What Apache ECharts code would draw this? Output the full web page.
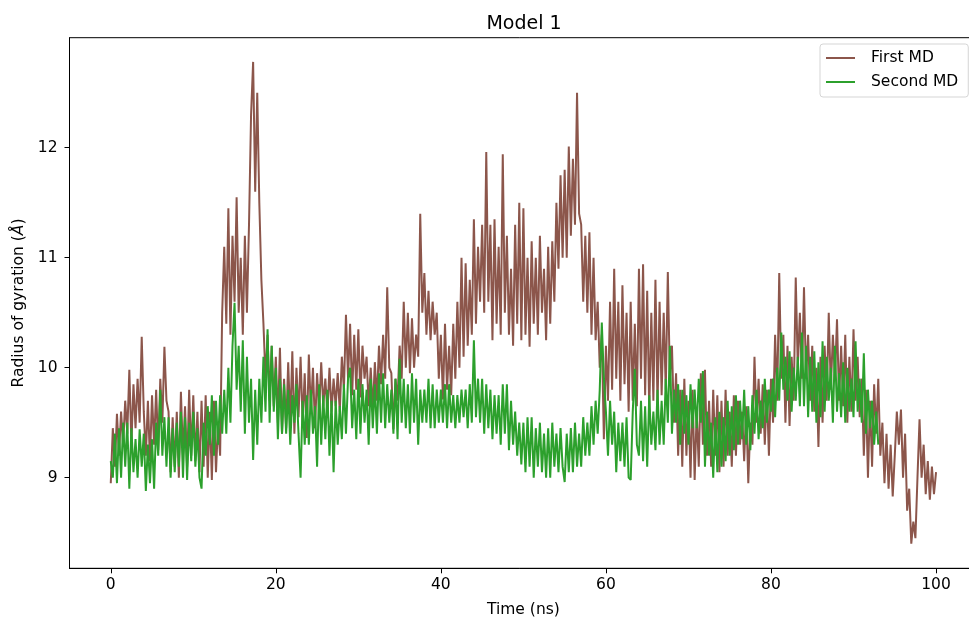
<!DOCTYPE html>
<html>
<head>
<meta charset="utf-8">
<script src="https://cdn.jsdelivr.net/npm/echarts@6/dist/echarts.min.js"></script>
<style>html,body{margin:0;padding:0;background:#fff}#c{width:969px;height:618px}</style>
</head>
<body>
<div id="c"></div>
<script>
// Time step (ns) between samples
const timeStep = 0.25;
// First MD radius of gyration (Å), one row per ns (4 samples), 0 to 100 ns
const firstMD = [
8.95,9.45,9.1,9.58,
9.2,9.6,9.3,9.7,
9.4,9.98,9.3,9.85,
9.45,9.9,9.5,10.28,
9.6,9.2,9.7,9.15,
9.75,9.3,9.8,9.25,
9.9,9.5,10.19,9.7,
9.6,9.05,9.55,9.1,
9.6,9.0,9.78,9.2,
9.65,9.1,9.8,9.2,
9.75,9.15,9.6,9.05,
9.7,9.1,9.75,9.0,
9.6,8.98,9.7,9.05,
9.5,9.2,10.5,11.1,
10.4,11.45,10.3,11.2,
10.6,11.55,10.5,11.0,
10.3,11.2,10.5,11.3,
12.3,12.78,11.6,12.5,
11.5,10.8,10.4,9.9,
10.3,9.7,10.2,9.65,
10.1,9.5,10.18,9.4,
9.9,9.45,10.05,9.5,
10.15,9.4,10.0,9.55,
10.1,9.5,9.95,9.36,
10.12,9.6,10.0,9.45,
9.95,9.6,10.05,9.65,
9.9,9.59,10.0,9.6,
9.9,9.65,9.95,9.6,
10.1,9.8,10.48,9.9,
10.4,9.75,10.3,9.8,
10.35,9.73,10.2,9.9,
10.1,9.65,10.0,9.6,
10.05,9.7,10.2,9.85,
10.3,9.9,10.73,10.0,
9.95,9.44,9.9,9.7,
10.2,9.9,10.6,10.0,
10.5,9.95,10.45,10.0,
10.3,10.1,11.4,10.5,
10.86,10.3,10.7,10.25,
10.6,10.3,10.5,9.9,
10.3,9.71,10.4,9.8,
10.2,9.75,10.4,9.9,
10.6,10.0,11.0,10.1,
10.95,10.2,10.8,10.3,
11.35,10.4,11.1,10.6,
11.3,10.5,11.96,10.6,
11.3,10.25,11.35,10.4,
11.1,10.3,11.94,10.5,
11.2,10.3,10.9,10.2,
11.3,10.4,11.5,10.25,
11.45,10.3,11.0,10.19,
11.15,10.4,11.0,10.3,
11.2,10.5,10.9,10.25,
11.1,10.4,11.15,10.6,
11.5,10.9,11.75,11.0,
11.8,11.0,12.01,11.2,
11.9,11.3,12.5,11.4,
11.3,10.6,11.2,10.5,
11.23,10.3,11.0,10.25,
10.6,10.0,10.3,9.35,
10.2,9.7,10.6,9.8,
10.9,9.9,10.6,9.7,
10.75,9.85,10.5,9.6,
10.6,9.7,10.4,9.65,
10.9,9.9,10.94,9.75,
10.7,9.6,10.5,9.7,
10.8,9.65,10.6,9.75,
10.5,9.8,10.87,9.9,
10.2,9.5,9.95,9.2,
9.8,9.1,9.9,9.2,
9.7,9.0,9.8,8.98,
9.6,9.1,9.95,9.3,
9.98,9.2,9.7,9.1,
9.8,9.2,9.75,9.05,
9.7,9.1,9.8,9.2,
9.6,9.1,9.75,9.2,
9.7,9.3,9.6,9.15,
9.65,8.95,9.5,9.3,
10.1,9.5,9.9,9.4,
9.85,9.3,9.8,9.2,
9.9,9.5,10.3,9.7,
10.86,9.9,10.3,9.5,
10.2,9.47,10.1,9.7,
10.82,10.0,10.5,9.9,
10.73,9.9,10.3,9.7,
10.2,9.6,10.0,9.28,
10.1,9.5,10.2,9.7,
10.5,9.8,10.3,9.9,
10.44,9.7,10.2,9.65,
10.3,9.5,10.1,9.6,
10.35,9.7,10.1,9.55,
9.9,9.2,9.8,9.0,
9.7,9.1,9.85,9.4,
9.9,9.2,9.5,8.95,
9.4,8.9,9.3,8.83,
9.2,9.6,9.3,9.62,
9.0,9.4,8.7,8.9,
8.4,8.6,8.45,9.0,
9.53,9.0,9.3,8.85,
9.15,8.8,9.1,8.85,
9.05
];
// Second MD radius of gyration (Å), one row per ns (4 samples), 0 to 93 ns
const secondMD = [
9.15,9.0,9.4,8.95,
9.45,9.0,9.5,9.1,
9.5,8.9,9.45,9.05,
9.35,9.0,9.44,9.1,
9.4,8.88,9.3,8.95,
9.35,8.9,9.5,9.2,
9.8,9.2,9.55,9.1,
9.55,9.0,9.45,9.05,
9.5,9.1,9.6,9.0,
9.55,8.98,9.5,9.15,
9.6,9.1,9.45,9.0,
8.9,9.5,9.2,9.65,
9.3,9.75,9.2,9.7,
9.3,9.75,9.4,9.8,
9.4,10.0,9.5,10.2,
10.59,9.8,10.2,9.6,
10.25,9.4,10.1,9.5,
9.9,9.16,9.8,9.3,
9.9,9.5,10.1,9.6,
10.35,9.5,10.2,9.6,
10.0,9.35,9.9,9.4,
9.85,9.4,9.8,9.3,
9.75,9.5,9.85,9.4,
9.0,9.7,9.3,9.75,
9.3,9.8,9.4,9.65,
9.1,9.85,9.3,9.75,
9.35,9.8,9.2,9.7,
9.05,9.7,9.3,9.65,
9.35,9.85,9.4,9.9,
10.0,9.45,9.8,9.35,
9.9,9.4,9.85,9.5,
9.8,9.3,9.9,9.45,
9.85,9.4,9.95,9.5,
9.95,9.45,9.85,9.5,
9.8,9.4,9.9,9.35,
10.08,9.5,9.9,9.45,
9.85,9.4,9.95,9.5,
9.9,9.3,9.8,9.5,
9.8,9.5,9.9,9.45,
9.85,9.45,9.8,9.5,
9.8,9.5,9.85,9.45,
9.85,9.5,9.75,9.45,
9.75,9.5,9.8,9.55,
9.8,9.45,9.85,9.5,
10.25,9.55,9.9,9.5,
9.9,9.4,9.85,9.45,
9.8,9.35,9.75,9.4,
9.75,9.3,9.85,9.4,
9.85,9.25,9.7,9.3,
9.6,9.2,9.5,9.12,
9.5,9.05,9.55,9.1,
9.55,9.0,9.45,9.1,
9.5,9.05,9.4,9.0,
9.45,9.0,9.5,9.1,
9.4,9.05,9.45,9.1,
8.96,9.4,9.05,9.45,
9.05,9.5,9.1,9.4,
9.1,9.55,9.2,9.5,
9.2,9.65,9.3,9.7,
9.4,9.8,10.41,9.9,
9.6,9.2,9.7,9.3,
9.6,9.05,9.5,9.15,
9.5,9.1,9.55,9.0,
8.98,9.6,9.99,9.3,
9.2,9.7,9.15,9.65,
9.1,9.75,9.3,9.6,
9.25,9.8,9.3,9.7,
9.3,9.9,9.5,10.2,
9.4,9.8,9.5,9.85,
9.3,9.8,9.4,9.75,
9.3,9.85,9.45,9.8,
9.45,9.9,9.5,9.97,
9.1,9.6,9.2,9.5,
9.0,9.55,9.05,9.6,
9.1,9.55,9.15,9.7,
9.2,9.65,9.25,9.75,
9.3,9.7,9.35,9.8,
9.3,9.65,9.25,9.75,
9.4,9.8,9.35,9.7,
9.45,9.9,9.5,9.8,
9.6,9.9,9.55,10.0,
9.7,10.32,9.8,10.1,
9.7,10.15,9.6,10.0,
9.7,10.1,9.65,10.32,
9.65,10.2,9.55,10.1,
9.6,10.15,9.5,10.05,
9.55,10.24,9.6,10.1,
9.7,10.0,9.5,10.2,
9.6,9.95,9.55,10.05,
9.5,10.0,9.6,9.9,
9.55,10.24,9.6,9.9,
9.5,10.13,9.4,9.8,
9.45,9.7,9.3,9.6,
9.3
];
const xTicks = [0, 20, 40, 60, 80, 100];
const yTicks = [9, 10, 11, 12];

const pairs = arr => arr.map((v, i) => [i * timeStep, v]);
const font = 'DejaVu Sans';
const fs = 15.5;

const chart = echarts.init(document.getElementById('c'), null, {renderer: 'canvas'});
chart.setOption({
  animation: false,
  backgroundColor: '#fff',
  textStyle: {fontFamily: font},
  title: {
    text: 'Model 1',
    left: 519, top: 10, textAlign: 'center',
    textStyle: {fontFamily: font, fontSize: 19, fontWeight: 'normal', color: '#000'}
  },
  legend: {
    orient: 'vertical',
    left: 820, top: 44,
    padding: [6, 10, 7, 6],
    itemGap: 8,
    itemWidth: 29, itemHeight: 2,
    icon: 'rect',
    backgroundColor: '#fff',
    borderColor: '#d5d5d5', borderWidth: 1, borderRadius: 3,
    textStyle: {fontFamily: font, fontSize: fs, lineHeight: 16, color: '#000', padding: [0, 0, 0, 11]},
    data: ['First MD', 'Second MD']
  },
  grid: {
    left: 69.5, top: 37.7, width: 907.8, height: 530.6,
    containLabel: false, outerBoundsMode: 'none',
    show: true, borderColor: '#000', borderWidth: 1, backgroundColor: 'transparent'
  },
  xAxis: {
    type: 'value', min: -5, max: 105,
    name: 'Time (ns)', nameLocation: 'middle', nameGap: 34,
    nameTextStyle: {fontFamily: font, fontSize: fs, color: '#000'},
    axisLine: {show: true, onZero: false, lineStyle: {color: '#000', width: 1}},
    axisTick: {show: true, length: 5, lineStyle: {color: '#000'}, customValues: xTicks},
    axisLabel: {fontFamily: font, fontSize: fs, color: '#000', margin: 9, customValues: xTicks},
    splitLine: {show: false}
  },
  yAxis: {
    type: 'value', min: 8.176, max: 13.0,
    name: 'Radius of gyration ({i|Å})', nameLocation: 'middle', nameGap: 38,
    nameTextStyle: {fontFamily: font, fontSize: fs, color: '#000',
      rich: {i: {fontFamily: font, fontSize: fs, fontStyle: 'italic', color: '#000'}}},
    axisLine: {show: true, onZero: false, lineStyle: {color: '#000', width: 1}},
    axisTick: {show: true, length: 5, lineStyle: {color: '#000'}, customValues: yTicks},
    axisLabel: {fontFamily: font, fontSize: fs, color: '#000', margin: 12, customValues: yTicks},
    splitLine: {show: false}
  },
  series: [
    {
      name: 'First MD', type: 'line', data: pairs(firstMD),
      showSymbol: false, symbol: 'none',
      lineStyle: {color: '#8c564b', width: 2},
      itemStyle: {color: '#8c564b'}
    },
    {
      name: 'Second MD', type: 'line', data: pairs(secondMD),
      showSymbol: false, symbol: 'none',
      lineStyle: {color: '#2ca02c', width: 2},
      itemStyle: {color: '#2ca02c'}
    }
  ]
});
</script>
</body>
</html>
